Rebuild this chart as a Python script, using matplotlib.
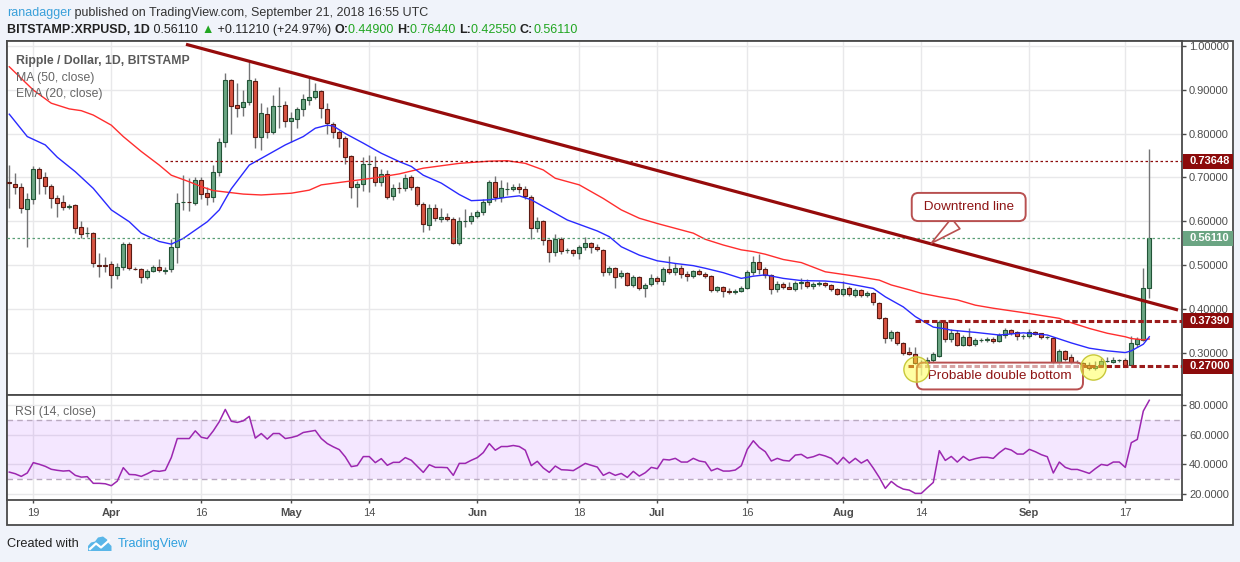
import matplotlib
matplotlib.use("Agg")
import matplotlib.pyplot as plt
import matplotlib.transforms as mtransforms
from matplotlib.patches import Rectangle, Polygon
from matplotlib.ticker import FormatStrFormatter
import numpy as np
import pandas as pd

plt.rcParams['font.family'] = ['Liberation Sans', 'DejaVu Sans']

# ---------------- data ----------------
start_date = '2018-03-15'
opens = [0.690, 0.685, 0.678, 0.628, 0.651, 0.719, 0.700, 0.680, 0.653, 0.644,
         0.632, 0.637, 0.587, 0.573, 0.573, 0.501, 0.500, 0.503, 0.478, 0.496,
         0.548, 0.492, 0.491, 0.473, 0.487, 0.496, 0.487, 0.491, 0.541, 0.644,
         0.644, 0.642, 0.694, 0.664, 0.655, 0.712, 0.781, 0.922, 0.865, 0.860,
         0.872, 0.920, 0.792, 0.844, 0.803, 0.862, 0.865, 0.828, 0.833, 0.856,
         0.877, 0.884, 0.897, 0.856, 0.822, 0.803, 0.790, 0.749, 0.678, 0.685,
         0.730, 0.724, 0.690, 0.708, 0.657, 0.676, 0.676, 0.700, 0.678, 0.639,
         0.592, 0.631, 0.605, 0.610, 0.605, 0.550, 0.600, 0.600, 0.612, 0.621,
         0.644, 0.690, 0.655, 0.674, 0.674, 0.678, 0.674, 0.655, 0.585, 0.600,
         0.557, 0.530, 0.560, 0.535, 0.535, 0.528, 0.541, 0.550, 0.541, 0.535,
         0.484, 0.494, 0.476, 0.482, 0.455, 0.473, 0.448, 0.457, 0.471, 0.464,
         0.491, 0.485, 0.494, 0.480, 0.476, 0.487, 0.480, 0.475, 0.443, 0.450,
         0.441, 0.439, 0.442, 0.448, 0.485, 0.507, 0.491, 0.478, 0.446, 0.457,
         0.450, 0.446, 0.459, 0.462, 0.452, 0.457, 0.460, 0.455, 0.446, 0.435,
         0.448, 0.433, 0.443, 0.432, 0.437, 0.414, 0.380, 0.334, 0.348, 0.323,
         0.302, 0.298, 0.277, 0.277, 0.284, 0.293, 0.371, 0.332, 0.345, 0.318,
         0.336, 0.320, 0.330, 0.330, 0.332, 0.327, 0.341, 0.352, 0.348, 0.339,
         0.339, 0.348, 0.345, 0.336, 0.334, 0.280, 0.305, 0.291, 0.280, 0.277,
         0.273, 0.266, 0.270, 0.282, 0.280, 0.284, 0.284, 0.273, 0.320, 0.330,
         0.449]
highs = [0.728, 0.710, 0.687, 0.664, 0.726, 0.724, 0.712, 0.685, 0.660, 0.660,
         0.640, 0.640, 0.600, 0.587, 0.575, 0.528, 0.519, 0.510, 0.505, 0.553,
         0.553, 0.495, 0.494, 0.492, 0.500, 0.514, 0.495, 0.560, 0.664, 0.705,
         0.699, 0.700, 0.700, 0.678, 0.728, 0.789, 0.938, 0.925, 0.915, 0.899,
         0.963, 0.926, 0.869, 0.860, 0.888, 0.907, 0.875, 0.850, 0.860, 0.890,
         0.926, 0.915, 0.900, 0.870, 0.826, 0.808, 0.795, 0.752, 0.692, 0.747,
         0.751, 0.748, 0.720, 0.718, 0.685, 0.690, 0.708, 0.705, 0.680, 0.645,
         0.639, 0.640, 0.630, 0.618, 0.610, 0.610, 0.628, 0.622, 0.625, 0.650,
         0.695, 0.703, 0.694, 0.690, 0.685, 0.688, 0.680, 0.660, 0.610, 0.602,
         0.560, 0.570, 0.565, 0.540, 0.537, 0.545, 0.564, 0.553, 0.548, 0.537,
         0.498, 0.497, 0.490, 0.484, 0.477, 0.476, 0.460, 0.480, 0.476, 0.495,
         0.521, 0.505, 0.500, 0.486, 0.490, 0.492, 0.484, 0.477, 0.452, 0.452,
         0.447, 0.446, 0.452, 0.488, 0.521, 0.525, 0.496, 0.480, 0.465, 0.462,
         0.462, 0.465, 0.470, 0.468, 0.462, 0.463, 0.462, 0.458, 0.448, 0.464,
         0.452, 0.448, 0.446, 0.442, 0.440, 0.416, 0.383, 0.352, 0.350, 0.325,
         0.314, 0.313, 0.285, 0.292, 0.302, 0.375, 0.376, 0.355, 0.352, 0.340,
         0.357, 0.335, 0.334, 0.336, 0.336, 0.345, 0.358, 0.354, 0.350, 0.344,
         0.355, 0.350, 0.346, 0.338, 0.336, 0.310, 0.308, 0.298, 0.285, 0.280,
         0.280, 0.282, 0.288, 0.290, 0.290, 0.286, 0.288, 0.339, 0.336, 0.494,
         0.7644]
lows = [0.630, 0.662, 0.619, 0.541, 0.640, 0.662, 0.662, 0.630, 0.610, 0.626,
        0.628, 0.573, 0.562, 0.564, 0.496, 0.473, 0.485, 0.448, 0.468, 0.490,
        0.490, 0.488, 0.460, 0.468, 0.485, 0.484, 0.480, 0.484, 0.505, 0.626,
        0.623, 0.638, 0.650, 0.637, 0.644, 0.703, 0.770, 0.800, 0.838, 0.840,
        0.865, 0.767, 0.762, 0.790, 0.800, 0.812, 0.815, 0.780, 0.812, 0.840,
        0.865, 0.878, 0.835, 0.800, 0.790, 0.770, 0.730, 0.653, 0.633, 0.670,
        0.667, 0.680, 0.680, 0.650, 0.649, 0.664, 0.670, 0.672, 0.635, 0.576,
        0.580, 0.600, 0.598, 0.600, 0.548, 0.545, 0.587, 0.594, 0.607, 0.615,
        0.638, 0.646, 0.645, 0.660, 0.668, 0.665, 0.650, 0.559, 0.575, 0.545,
        0.508, 0.520, 0.525, 0.528, 0.522, 0.515, 0.535, 0.528, 0.533, 0.476,
        0.478, 0.448, 0.470, 0.452, 0.450, 0.444, 0.428, 0.452, 0.458, 0.455,
        0.480, 0.478, 0.472, 0.465, 0.470, 0.478, 0.470, 0.440, 0.440, 0.428,
        0.435, 0.435, 0.440, 0.445, 0.478, 0.480, 0.472, 0.434, 0.440, 0.446,
        0.445, 0.441, 0.446, 0.447, 0.446, 0.452, 0.450, 0.442, 0.432, 0.430,
        0.430, 0.428, 0.428, 0.428, 0.409, 0.378, 0.323, 0.328, 0.318, 0.295,
        0.295, 0.275, 0.250, 0.268, 0.280, 0.290, 0.325, 0.325, 0.315, 0.315,
        0.315, 0.316, 0.326, 0.325, 0.322, 0.324, 0.335, 0.340, 0.330, 0.333,
        0.335, 0.340, 0.331, 0.333, 0.275, 0.272, 0.282, 0.275, 0.275, 0.268,
        0.262, 0.262, 0.268, 0.280, 0.278, 0.280, 0.270, 0.272, 0.314, 0.328,
        0.4255]
closes = [0.687, 0.678, 0.630, 0.651, 0.719, 0.699, 0.680, 0.653, 0.642, 0.633,
          0.635, 0.585, 0.571, 0.573, 0.505, 0.499, 0.499, 0.478, 0.496, 0.548,
          0.494, 0.491, 0.473, 0.487, 0.496, 0.488, 0.490, 0.541, 0.642, 0.645,
          0.643, 0.694, 0.662, 0.655, 0.712, 0.781, 0.922, 0.863, 0.858, 0.872,
          0.922, 0.792, 0.847, 0.803, 0.862, 0.862, 0.828, 0.835, 0.856, 0.879,
          0.884, 0.897, 0.858, 0.824, 0.803, 0.790, 0.746, 0.678, 0.685, 0.730,
          0.731, 0.690, 0.708, 0.655, 0.676, 0.675, 0.699, 0.678, 0.639, 0.594,
          0.631, 0.608, 0.610, 0.605, 0.550, 0.600, 0.600, 0.612, 0.621, 0.644,
          0.690, 0.655, 0.676, 0.674, 0.678, 0.674, 0.658, 0.585, 0.600, 0.557,
          0.530, 0.560, 0.532, 0.535, 0.528, 0.541, 0.550, 0.541, 0.537, 0.484,
          0.494, 0.473, 0.482, 0.455, 0.473, 0.448, 0.455, 0.471, 0.464, 0.491,
          0.485, 0.494, 0.480, 0.476, 0.487, 0.480, 0.475, 0.443, 0.450, 0.441,
          0.439, 0.442, 0.448, 0.485, 0.507, 0.491, 0.478, 0.446, 0.457, 0.450,
          0.446, 0.459, 0.462, 0.452, 0.457, 0.460, 0.455, 0.446, 0.435, 0.446,
          0.435, 0.443, 0.432, 0.437, 0.416, 0.380, 0.334, 0.348, 0.323, 0.300,
          0.298, 0.277, 0.277, 0.284, 0.297, 0.371, 0.332, 0.345, 0.318, 0.336,
          0.318, 0.330, 0.330, 0.331, 0.327, 0.341, 0.352, 0.345, 0.339, 0.339,
          0.348, 0.343, 0.336, 0.336, 0.280, 0.305, 0.286, 0.280, 0.280, 0.273,
          0.266, 0.270, 0.282, 0.282, 0.284, 0.284, 0.273, 0.323, 0.332, 0.449,
          0.5611]

# MA(50) and EMA(20) read at sample candles (candle number, value)
ma50_day = [1, 5, 8, 11, 13, 15, 18, 20, 23, 26, 28, 31, 33, 35, 40, 43, 48, 51,
            53, 58, 62, 66, 70, 76, 81, 84, 87, 90, 92, 96, 100, 103, 106, 109,
            112, 115, 117, 120, 123, 125, 127, 130, 133, 137, 142, 146, 148, 151,
            153, 156, 159, 162, 165, 170, 176, 178, 181, 184, 187, 188, 190, 191]
ma50_val = [0.952, 0.899, 0.869, 0.856, 0.852, 0.842, 0.819, 0.793, 0.759, 0.728,
            0.705, 0.690, 0.679, 0.670, 0.662, 0.660, 0.664, 0.671, 0.683, 0.692,
            0.699, 0.708, 0.721, 0.732, 0.737, 0.738, 0.732, 0.717, 0.698, 0.683,
            0.652, 0.626, 0.607, 0.595, 0.584, 0.573, 0.559, 0.546, 0.535, 0.531,
            0.525, 0.513, 0.506, 0.485, 0.475, 0.466, 0.455, 0.444, 0.436, 0.428,
            0.421, 0.409, 0.402, 0.392, 0.379, 0.369, 0.356, 0.345, 0.337, 0.333,
            0.330, 0.332]
ema20_day = [1, 4, 7, 9, 12, 15, 18, 21, 23, 26, 28, 30, 32, 34, 36, 38, 41, 44,
             47, 50, 52, 54, 55, 57, 60, 63, 66, 68, 70, 73, 76, 78, 81, 84, 86,
             88, 91, 94, 97, 99, 101, 103, 106, 109, 112, 115, 117, 120, 123, 125,
             127, 130, 133, 137, 140, 145, 147, 150, 152, 155, 157, 158, 162, 166,
             170, 174, 178, 181, 184, 187, 188, 190, 191]
ema20_val = [0.844, 0.793, 0.774, 0.746, 0.713, 0.675, 0.626, 0.599, 0.573, 0.554,
             0.548, 0.561, 0.580, 0.599, 0.626, 0.674, 0.728, 0.751, 0.774, 0.793,
             0.812, 0.819, 0.817, 0.800, 0.778, 0.755, 0.736, 0.725, 0.705, 0.687,
             0.661, 0.647, 0.649, 0.655, 0.658, 0.649, 0.626, 0.603, 0.588, 0.578,
             0.565, 0.542, 0.523, 0.510, 0.504, 0.499, 0.493, 0.483, 0.470, 0.475,
             0.478, 0.470, 0.465, 0.464, 0.460, 0.447, 0.428, 0.405, 0.383, 0.359,
             0.355, 0.352, 0.347, 0.341, 0.346, 0.341, 0.323, 0.311, 0.305, 0.301,
             0.305, 0.320, 0.337]

rsi14 = [34.6, 33.5, 31.7, 34.0, 41.0, 39.9, 38.5, 36.5, 35.8, 35.3,
         35.6, 32.4, 31.2, 31.5, 27.0, 27.0, 26.7, 25.4, 28.5, 37.6,
         33.0, 32.8, 31.7, 33.5, 35.6, 35.1, 35.8, 44.4, 57.3, 57.3,
         57.3, 62.5, 58.2, 57.3, 62.5, 68.7, 77.0, 69.0, 68.2, 69.3,
         72.3, 57.6, 60.7, 56.9, 60.7, 60.7, 57.3, 58.0, 59.1, 61.4,
         62.1, 62.8, 57.3, 53.9, 51.7, 49.8, 44.9, 38.3, 39.0, 45.1,
         45.1, 41.0, 43.7, 39.2, 41.2, 41.2, 44.4, 42.6, 38.5, 34.4,
         39.6, 37.8, 37.8, 37.6, 32.4, 40.5, 40.5, 42.6, 44.4, 47.8,
         53.9, 49.4, 51.9, 51.9, 52.6, 51.9, 49.4, 39.0, 41.9, 37.4,
         34.4, 38.7, 36.2, 36.0, 35.6, 38.0, 40.5, 39.2, 38.0, 32.4,
         34.4, 32.4, 33.7, 31.0, 35.1, 31.9, 34.2, 37.8, 36.9, 43.2,
         42.8, 43.9, 41.4, 41.4, 43.9, 42.1, 41.4, 35.5, 37.1, 35.3,
         35.3, 36.0, 38.9, 50.0, 55.8, 51.3, 48.4, 42.1, 43.9, 42.5,
         42.1, 46.1, 46.6, 44.1, 45.0, 46.6, 45.5, 43.9, 40.0, 44.6,
         40.7, 43.9, 40.7, 43.0, 37.3, 31.0, 23.6, 28.3, 25.1, 23.1,
         22.4, 20.2, 20.2, 24.0, 27.6, 49.1, 42.5, 45.2, 41.4, 45.2,
         42.5, 43.7, 44.6, 44.6, 43.9, 47.7, 50.7, 49.5, 46.8, 46.8,
         50.0, 48.4, 46.4, 45.0, 34.0, 41.4, 37.8, 36.4, 36.4, 35.1,
         33.7, 36.9, 39.8, 39.1, 41.4, 41.4, 37.8, 54.5, 56.7, 75.9,
         83.2]

tick_dates = ['2018-03-19', '2018-04-01', '2018-04-16', '2018-05-01', '2018-05-14',
              '2018-06-01', '2018-06-18', '2018-07-01', '2018-07-16', '2018-08-01',
              '2018-08-14', '2018-09-01', '2018-09-17']
tick_labels = ['19', 'Apr', '16', 'May', '14', 'Jun', '18', 'Jul', '16', 'Aug',
               '14', 'Sep', '17']
month_labels = ['Apr', 'May', 'Jun', 'Jul', 'Aug', 'Sep']

price_ticks = [0.3, 0.4, 0.5, 0.6, 0.7, 0.8, 0.9, 1.0]
rsi_ticks = [20, 40, 60, 80]

resistance_level = 0.73648
last_price = 0.5611
range_high = 0.3739
range_low = 0.27
# downtrend line anchors (candle number, price)
trend_day = [30.45, 195.78]
trend_price = [1.0032, 0.398]

# ---------------- figure ----------------
W, H = 1240, 562
fig = plt.figure(figsize=(W / 100, H / 100), dpi=100)
fig.patch.set_facecolor('#f0f3fa')


def frac(l, t, r, b):
    return [l / W, 1 - b / H, (r - l) / W, (b - t) / H]


bg = fig.add_axes([0, 0, 1, 1], zorder=0)
bg.set_xlim(0, W)
bg.set_ylim(H, 0)
bg.axis('off')
bg.add_patch(Rectangle((7, 41), 1226, 484, fc='white', ec='#4a4a4a', lw=1.3))

ax = fig.add_axes(frac(7, 41, 1182, 394.5), zorder=2)
axr = fig.add_axes(frac(7, 394.5, 1182, 500), zorder=2, sharex=ax)

dates = pd.date_range(start_date, periods=len(closes), freq='D')
x = np.arange(len(closes))
o = np.array(opens)
h = np.array(highs)
l = np.array(lows)
c = np.array(closes)
up = c >= o

AX_COL = '#4a4a4a'
for a in (ax, axr):
    for s in a.spines.values():
        s.set_color(AX_COL)
        s.set_linewidth(1.3)
    a.set_facecolor('white')
    a.grid(True, color='#e8e8ea', lw=1, zorder=0)
    a.set_axisbelow(True)
    a.yaxis.tick_right()
    a.tick_params(axis='y', length=3, width=1, color=AX_COL, labelsize=8,
                  labelcolor='#4d4d4d', pad=2)

ax.set_xlim(-0.38, 195.45)
ax.set_ylim(0.2055, 1.0107)
ax.set_yticks(price_ticks)
ax.yaxis.set_major_formatter(FormatStrFormatter('%.5f'))

tick_idx = [(pd.Timestamp(d) - dates[0]).days for d in tick_dates]
axr.set_xticks(tick_idx)
axr.set_xticklabels(tick_labels)
ax.tick_params(axis='x', which='both', length=0, labelbottom=False)
axr.tick_params(axis='x', length=2.5, width=1, color=AX_COL, labelsize=8,
                labelcolor='#4d4d4d', pad=3.5)
for t in axr.get_xticklabels():
    if t.get_text() in month_labels:
        t.set_fontweight('bold')

# candles
ax.vlines(x, l, h, color='#737375', lw=1, zorder=3)
ax.bar(x, np.abs(c - o), bottom=np.minimum(o, c), width=0.64,
       color=np.where(up, '#6ba583', '#d75442'),
       edgecolor=np.where(up, '#225437', '#5b1a13'), linewidth=0.8, zorder=4)

# moving averages
ax.plot(np.array(ma50_day) - 1, ma50_val, color='#ff2e2e', lw=1.0, zorder=5)
ax.plot(np.array(ema20_day) - 1, ema20_val, color='#2a2aff', lw=1.0, zorder=5)

# horizontal levels
xr = ax.get_xlim()[1]
ax.hlines(resistance_level, 26, xr, colors='#8b0a0a', linestyles=(0, (2, 2)), lw=0.9, zorder=5)
ax.axhline(last_price, color='#5a9e76', ls=(0, (2, 2)), lw=0.9, zorder=5)
ax.hlines(range_high, 150.9, xr, colors='#9b1c1c', linestyles=(0, (1.8, 0.9)), lw=2.2, zorder=6)
ax.hlines(range_low, 149.8, xr, colors='#9b1c1c', linestyles=(0, (1.8, 0.9)), lw=2.2, zorder=6)

# trendline
ax.plot(np.array(trend_day) - 1, trend_price, color='#960b0b', lw=2.3,
        solid_capstyle='butt', zorder=6)

# callouts
ax.annotate(' Downtrend line ', xy=(153.3, 0.546), xytext=(159.9, 0.6326),
            ha='center', va='center', fontsize=9.7, color='#8e1414', zorder=8,
            bbox=dict(boxstyle='round,pad=0.6,rounding_size=0.5', fc='white',
                      ec='#b85050', lw=1.4),
            arrowprops=dict(arrowstyle='wedge,tail_width=1.0,shrink_factor=0.5',
                            fc='white', ec='#b85050', lw=1.2, relpos=(0.5, 0.0)))
ax.text(165.1, 0.2476, ' Probable double bottom ', ha='center', va='center',
        fontsize=9.7, color='#8e1414', zorder=7,
        bbox=dict(boxstyle='round,pad=0.55,rounding_size=0.5', fc=(1, 1, 1, 0.6),
                  ec='#b85050', lw=1.4))
ax.scatter([151.1, 180.7], [0.2627, 0.2688], s=330, facecolor=(1, 1, 0.2, 0.45),
           edgecolor='#c8c83a', lw=1, zorder=9)

# price-axis highlighted labels
btrans = mtransforms.blended_transform_factory(ax.transAxes, ax.transData)
for val, fc in [(resistance_level, '#8c0b0b'), (last_price, '#6ba583'),
                (range_high, '#8c0b0b'), (range_low, '#8c0b0b')]:
    ax.add_patch(Rectangle((1.0009, val - 0.0171), 0.0426, 0.0342, transform=btrans,
                           fc=fc, ec='none', clip_on=False, zorder=10))
    ax.text(1.0062, val, '%.5f' % val, transform=btrans, ha='left', va='center',
            color='white', fontsize=8, fontweight='bold', zorder=11, clip_on=False)

# RSI pane
axr.set_ylim(15.72, 87.1)
axr.set_yticks(rsi_ticks)
axr.yaxis.set_major_formatter(FormatStrFormatter('%.4f'))
axr.axhspan(30, 70, color=(0.6, 0.08, 1.0, 0.10), lw=0, zorder=1)
axr.axhline(70, ls=(0, (4, 3)), color='#b9a9c0', lw=1, zorder=2)
axr.axhline(30, ls=(0, (4, 3)), color='#b9a9c0', lw=1, zorder=2)
axr.plot(x, rsi14, color='#9c27b0', lw=1.1, zorder=3)

# legends inside panes
T = bg.transData
ax.text(15.5, 61, 'Ripple / Dollar, 1D, BITSTAMP', transform=T, fontsize=8.8,
        fontweight='bold', color='#5a5a5a', va='center', zorder=12, clip_on=False)
ax.text(15.5, 77.5, 'MA (50, close)', transform=T, fontsize=8.8, color='#666666',
        va='center', zorder=12, clip_on=False)
ax.text(15.5, 94, 'EMA (20, close)', transform=T, fontsize=8.8, color='#666666',
        va='center', zorder=12, clip_on=False)
axr.text(15, 412, 'RSI (14, close)', transform=T, fontsize=8.8, color='#666666',
         va='center', zorder=12, clip_on=False)

# header
t1 = bg.text(7, 13, 'ranadagger', color='#3aa0da', fontsize=9, va='center')
bg.annotate(' published on TradingView.com, September 21, 2018 16:55 UTC',
            xy=(1, 0.5), xycoords=t1, va='center', ha='left', fontsize=9, color='#333333')

GREEN = '#21a621'
pieces = [('BITSTAMP:XRPUSD, 1D', 'bold', '#222222'), (' 0.56110 ', 'normal', '#222222'),
          ('\u25b2', 'normal', GREEN), (' +0.11210 (+24.97%) ', 'normal', '#222222'),
          ('O:', 'bold', '#222222'), ('0.44900 ', 'normal', GREEN),
          ('H:', 'bold', '#222222'), ('0.76440 ', 'normal', GREEN),
          ('L:', 'bold', '#222222'), ('0.42550 ', 'normal', GREEN),
          ('C:', 'bold', '#222222'), ('0.56110', 'normal', GREEN)]
prev = None
for txt, wt, col in pieces:
    if prev is None:
        prev = bg.text(7, 30, txt, fontweight=wt, color=col, fontsize=9, va='center')
    else:
        prev = bg.annotate(txt, xy=(1, 0.5), xycoords=prev, va='center', ha='left',
                           fontweight=wt, color=col, fontsize=9)

# footer
bg.text(7, 544, 'Created with', fontsize=9.2, color='#222222', va='center')
bg.add_patch(Polygon([(88, 551), (88, 546), (91, 542.5), (95, 541.5), (98, 537.5),
                      (103, 536.5), (107, 539.5), (108.5, 543), (111.5, 546), (111.5, 551)],
                     closed=True, fc='#5ab6e8', ec='none'))
bg.plot([90, 96, 101, 109], [549, 543.5, 547.5, 540.5], color='white', lw=1.6)
bg.text(118, 544, 'TradingView', fontsize=9.2, color='#2fa0de', va='center')

fig.savefig('out.png', dpi=100, facecolor=fig.get_facecolor())
